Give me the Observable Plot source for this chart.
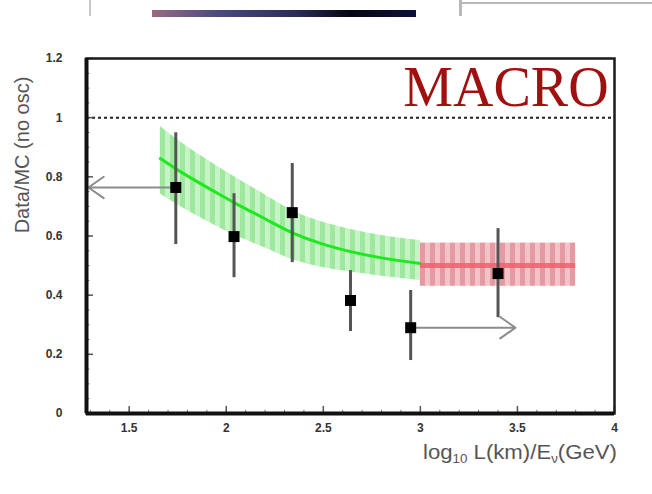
<!DOCTYPE html>
<html>
<head>
<meta charset="utf-8">
<script src="https://cdn.jsdelivr.net/npm/d3@7"></script>
<script src="https://cdn.jsdelivr.net/npm/@observablehq/plot@0.6"></script>
<style>
  html, body { margin: 0; padding: 0; background: #fff; }
  #wrap { position: relative; width: 652px; height: 494px; overflow: hidden; }
  .strip { position: absolute; }
</style>
</head>
<body>
<div id="wrap">
  <div class="strip" style="left:152px;top:10px;width:264px;height:7px;background:linear-gradient(90deg,#9a6a82 0%,#4a4a80 25%,#2a2a5a 55%,#050510 75%,#10103a 100%);"></div>
  <div class="strip" style="left:89px;top:0;width:2px;height:16px;background:#c8c8c8;"></div>
  <div class="strip" style="left:459px;top:0;width:3px;height:16px;background:#b8b8b8;"></div>
  <div class="strip" style="left:459px;top:2px;width:193px;height:2px;background:#b8b8b8;"></div>
</div>
<script>
// Data/MC ratio (no oscillation) versus log10 L/E — measured bins
const binX     = [1.74, 2.04, 2.34, 2.64, 2.95, 3.40];
const ratio    = [0.764, 0.598, 0.679, 0.382, 0.290, 0.473];
const errLow   = [0.571, 0.459, 0.510, 0.277, 0.179, 0.324];
const errHigh  = [0.949, 0.743, 0.845, 0.483, 0.416, 0.625];

// horizontal arrows (bins extending beyond the plotted range)
const arrowFrom = [1.74, 2.95];
const arrowTo   = [1.29, 3.49];
const arrowY    = [0.764, 0.290];

// oscillation expectation with its uncertainty band (green)
const curveX   = [1.66, 1.77, 1.94, 2.04, 2.18, 2.35, 2.49, 2.63, 2.80, 3.00];
const curveMid = [0.862, 0.815, 0.750, 0.713, 0.665, 0.608, 0.574, 0.549, 0.526, 0.507];
const curveHi  = [0.970, 0.915, 0.842, 0.801, 0.747, 0.683, 0.648, 0.624, 0.602, 0.585];
const curveLo  = [0.742, 0.697, 0.636, 0.603, 0.565, 0.518, 0.494, 0.479, 0.464, 0.450];

// flat expectation above log10 L/E = 3 (red)
const flatX1 = 3.0, flatX2 = 3.8, flatMid = 0.50, flatLo = 0.43, flatHi = 0.576;

// axes
const xTicks = [1.5, 2, 2.5, 3, 3.5, 4];
const xTickLabels = ["1.5", "2", "2.5", "3", "3.5", "4"];
const yTicks = [0, 0.2, 0.4, 0.6, 0.8, 1, 1.2];
const yTickLabels = ["0", "0.2", "0.4", "0.6", "0.8", "1", "1.2"];
const xMinor = d3.range(13, 41).map(v => v / 10).filter(v => v >= 1.3 && v <= 4);
const yMinor = d3.range(0, 25).map(v => v / 20);

const xMin = 1.28, xMax = 4;

const points = binX.map((x, i) => ({x, y: ratio[i], lo: errLow[i], hi: errHigh[i]}));
const arrows = arrowFrom.map((x1, i) => ({x1, x2: arrowTo[i], y: arrowY[i]}));
const band = curveX.map((x, i) => ({x, mid: curveMid[i], lo: curveLo[i], hi: curveHi[i]}));
const flat = [{x1: flatX1, x2: flatX2, mid: flatMid, lo: flatLo, hi: flatHi}];

const chart = Plot.plot({
  width: 652,
  height: 494,
  marginLeft: 86,
  marginRight: 38,
  marginTop: 58,
  marginBottom: 81,
  style: {background: "transparent", fontFamily: "Liberation Sans, Arial, sans-serif"},
  x: {domain: [xMin, xMax]},
  y: {domain: [0, 1.2]},
  marks: [
    Plot.areaY(band, {x: "x", y1: "lo", y2: "hi", fill: "url(#stripeGreen)", curve: "monotone-x"}),
    Plot.rect(flat, {x1: "x1", x2: "x2", y1: "lo", y2: "hi", fill: "url(#stripeRed)"}),
    Plot.ruleY([1], {stroke: "#222", strokeWidth: 2, strokeDasharray: "3,3"}),
    Plot.line(band, {x: "x", y: "mid", stroke: "#1ee81e", strokeWidth: 3, curve: "monotone-x"}),
    Plot.ruleY(flat, {x1: "x1", x2: "x2", y: "mid", stroke: "#f0606e", strokeWidth: 5, strokeOpacity: 0.85}),
    Plot.arrow(arrows, {x1: "x1", x2: "x2", y1: "y", y2: "y", stroke: "#8c8c8c", strokeWidth: 2, headLength: 14, headAngle: 70}),
    Plot.ruleX(points, {x: "x", y1: "lo", y2: "hi", stroke: "#555", strokeWidth: 3}),
    Plot.dot(points, {x: "x", y: "y", symbol: "square", r: 6.2, fill: "#000"}),
    // inward ticks
    Plot.ruleX(xMinor, {x: d => d, y1: 0, y2: 0.011, stroke: "#777", strokeWidth: 1}),
    Plot.ruleX(xTicks, {x: d => d, y1: 0, y2: 0.024, stroke: "#555", strokeWidth: 1.5}),
    Plot.ruleY(yMinor, {y: d => d, x1: xMin, x2: xMin + 0.018, stroke: "#777", strokeWidth: 1}),
    Plot.ruleY(yTicks, {y: d => d, x1: xMin, x2: xMin + 0.036, stroke: "#555", strokeWidth: 1.5}),
    Plot.frame({stroke: "#1a1a1a", strokeWidth: 2.5}),
    Plot.ruleX([xMin], {stroke: "#111", strokeWidth: 4}),
    Plot.ruleY([0], {stroke: "#111", strokeWidth: 4}),
    Plot.text(["MACRO"], {x: 3.97, y: 1.04, text: d => d, textAnchor: "end", lineAnchor: "bottom",
      fontSize: 56, fontFamily: "Liberation Serif, Times New Roman, serif", fill: "#a01010"}),
    Plot.axisX({ticks: xTicks, tickSize: 0, tickPadding: 10, tickFormat: (d, i) => xTickLabels[i],
      fontSize: 12, fontWeight: "bold", fill: "#333", label: null}),
    Plot.axisY({ticks: yTicks, tickSize: 0, tickPadding: 24, tickFormat: (d, i) => yTickLabels[i],
      fontSize: 12, fontWeight: "bold", fill: "#333", label: null})
  ]
});

const svg = d3.select(chart);
const defs = svg.insert("defs", ":first-child");
const g = defs.append("pattern").attr("id", "stripeGreen").attr("patternUnits", "userSpaceOnUse")
  .attr("width", 10).attr("height", 10);
g.append("rect").attr("width", 10).attr("height", 10).attr("fill", "#c6f4c6");
g.append("rect").attr("width", 5).attr("height", 10).attr("fill", "#9fe99f");
const r = defs.append("pattern").attr("id", "stripeRed").attr("patternUnits", "userSpaceOnUse")
  .attr("width", 10).attr("height", 10);
r.append("rect").attr("width", 10).attr("height", 10).attr("fill", "#f3c3c8");
r.append("rect").attr("width", 5).attr("height", 10).attr("fill", "#e49aa3");

// x-axis title with subscripts
const xt = svg.append("text").attr("x", 617).attr("y", 459).attr("text-anchor", "end")
  .attr("font-family", "Liberation Sans Narrow, Liberation Sans, Arial, sans-serif")
  .attr("font-size", 20).attr("fill", "#555")
  .attr("textLength", 194).attr("lengthAdjust", "spacingAndGlyphs");
xt.append("tspan").text("log");
xt.append("tspan").attr("font-size", 12).attr("dy", 4).text("10");
xt.append("tspan").attr("dy", -4).text(" L(km)/E");
xt.append("tspan").attr("font-size", 12).attr("dy", 4).text("\u03bd");
xt.append("tspan").attr("dy", -4).text("(GeV)");

// y-axis title
svg.append("text").attr("transform", "translate(29,155) rotate(-90)").attr("text-anchor", "middle")
  .attr("font-family", "Liberation Sans, Arial, sans-serif")
  .attr("font-size", 20).attr("fill", "#555")
  .text("Data/MC (no osc)");

const wrap = document.getElementById("wrap");
chart.style.position = "absolute";
chart.style.left = "0";
chart.style.top = "0";
wrap.insertBefore(chart, wrap.firstChild);
</script>
</body>
</html>
